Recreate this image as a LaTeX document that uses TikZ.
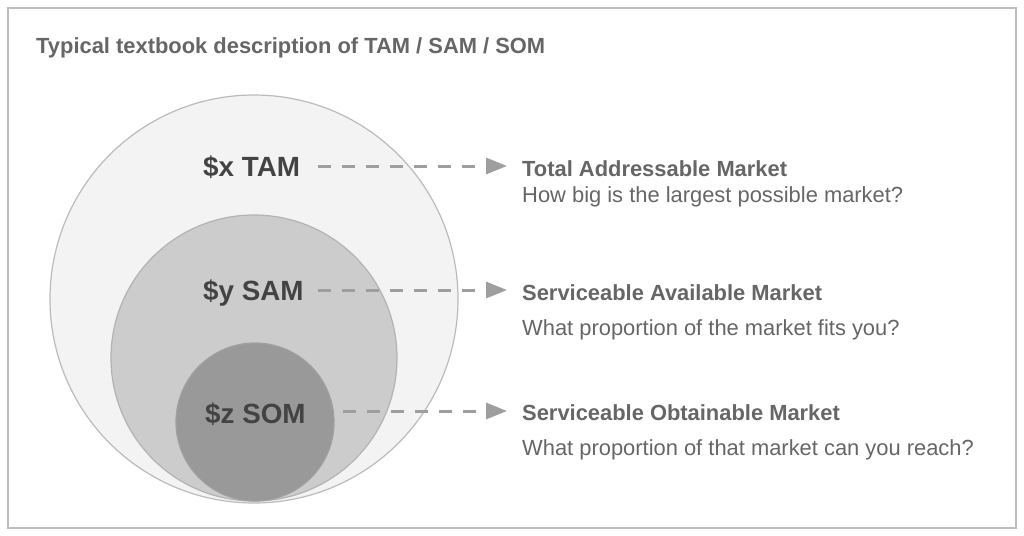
\documentclass[tikz,border=0pt]{standalone}
\usepackage{fontspec}
\setmainfont{Liberation Sans}
\usetikzlibrary{arrows.meta}
\definecolor{framec}{HTML}{BDBDBD}
\definecolor{tamfill}{HTML}{F3F3F3}
\definecolor{tamline}{HTML}{BBBBBB}
\definecolor{samfill}{HTML}{CCCCCC}
\definecolor{samline}{HTML}{B3B3B3}
\definecolor{somfill}{HTML}{999999}
\definecolor{somline}{HTML}{A0A0A0}
\definecolor{labc}{HTML}{434343}
\definecolor{txtc}{HTML}{666666}
\definecolor{arrc}{HTML}{9E9E9E}
\tikzset{
  px/.style={x=1pt,y=-1pt},
  circlab/.style={font=\fontsize{27.8}{32}\selectfont\bfseries, text=labc, anchor=base west, inner sep=0pt},
  headtxt/.style={font=\fontsize{21.9}{26}\selectfont\bfseries, text=txtc, anchor=base west, inner sep=0pt},
  bodytxt/.style={font=\fontsize{21.9}{26}\selectfont, text=txtc, anchor=base west, inner sep=0pt},
  dasharrow/.style={draw=arrc, line width=3pt, dash pattern=on 13pt off 11pt, -{Triangle[length=21pt,width=16pt]}, shorten >=0pt},
}
\begin{document}
\begin{tikzpicture}[px]
\useasboundingbox (0,0) rectangle (1024,535);
\fill[white] (0,0) rectangle (1024,535);
\draw[framec, line width=2pt] (8,8) rectangle (1016,528);
\node[headtxt] (title) at (36,54) {Typical textbook description of TAM / SAM / SOM};
% circles
\filldraw[fill=tamfill, draw=tamline, line width=1.2pt] (254,299) circle (204);
\filldraw[fill=samfill, draw=samline, line width=1.2pt] (254,358) circle (143);
\filldraw[fill=somfill, draw=somline, line width=1.2pt] (255,422) circle (79);
% circle labels
\node[circlab] (tam) at (203,176) {\$x TAM};
\node[circlab] (sam) at (203,300) {\$y SAM};
\node[circlab] (som) at (205,423) {\$z SOM};
% right texts
\node[headtxt] (tamh) at (522,176) {Total Addressable Market};
\node[bodytxt] (tamb) at (522,202) {How big is the largest possible market?};
\node[headtxt] (samh) at (522,300) {Serviceable Available Market};
\node[bodytxt] (samb) at (522,335) {What proportion of the market fits you?};
\node[headtxt] (somh) at (522,420) {Serviceable Obtainable Market};
\node[bodytxt] (somb) at (522,455) {What proportion of that market can you reach?};
% arrows
\coordinate (a1s) at (318,166); \coordinate (a1e) at (507,166);
\coordinate (a2s) at (318,290); \coordinate (a2e) at (507,290);
\coordinate (a3s) at (343,411); \coordinate (a3e) at (507,411);
\draw[dasharrow] (a1s) -- (a1e);
\draw[dasharrow] (a2s) -- (a2e);
\draw[dasharrow] (a3s) -- (a3e);
\end{tikzpicture}
\end{document}
